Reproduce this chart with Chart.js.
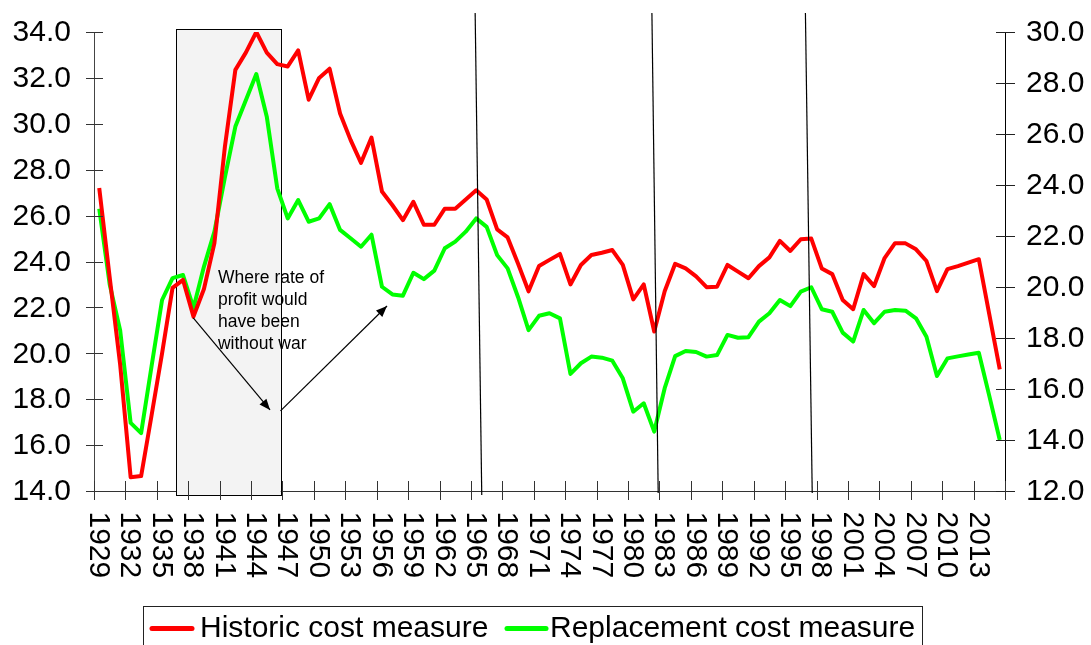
<!DOCTYPE html>
<html>
<head>
<meta charset="utf-8">
<script src="https://cdn.jsdelivr.net/npm/chart.js@4.4.1/dist/chart.umd.min.js"></script>
<style>
html,body{margin:0;padding:0;background:#fff;}
#wrap{width:1091px;height:645px;}
</style>
</head>
<body>
<div id="wrap"><canvas id="c" width="1091" height="645"></canvas></div>
<script>
// ---- data ----
const years = [];
for (let y = 1929; y <= 2015; y++) years.push(String(y));

const historicCost = [
 27.2, 23.3, 19.5, 14.6, 14.65, 17.3, 20.0, 22.85, 23.2, 21.6,
 22.8, 24.8, 29.0, 32.35, 33.1, 34.0, 33.1, 32.6, 32.5, 33.2,
 31.05, 32.0, 32.4, 30.45, 29.3, 28.3, 29.4, 27.05, 26.45, 25.8,
 26.6, 25.6, 25.6, 26.3, 26.3, 26.7, 27.1, 26.7, 25.4, 25.05,
 23.9, 22.7, 23.8, 24.07, 24.33, 23.0, 23.85, 24.28, 24.38, 24.5,
 23.85, 22.35, 23.0, 20.95, 22.7, 23.9, 23.7, 23.35, 22.88, 22.9,
 23.85, 23.56, 23.27, 23.8, 24.18, 24.9, 24.46, 24.97, 25.0, 23.7,
 23.45, 22.32, 21.92, 23.45, 22.93, 24.15, 24.8, 24.79, 24.53, 24.02,
 22.71, 23.67, 23.8, 23.95, 24.1, 21.7, 19.3
];

const replacementCost = [
 23.07, 20.1, 18.3, 14.67, 14.27, 16.9, 19.49, 20.35, 20.47, 19.18,
 20.8, 22.17, 24.3, 26.29, 27.32, 28.35, 26.68, 23.87, 22.69, 23.41,
 22.56, 22.69, 23.25, 22.24, 21.91, 21.58, 22.05, 20.01, 19.71, 19.66,
 20.56, 20.31, 20.64, 21.52, 21.78, 22.17, 22.69, 22.36, 21.25, 20.73,
 19.6, 18.31, 18.87, 18.97, 18.77, 16.59, 17.01, 17.27, 17.23, 17.11,
 16.42, 15.11, 15.44, 14.33, 16.03, 17.29, 17.49, 17.45, 17.27, 17.33,
 18.12, 18.01, 18.03, 18.64, 18.97, 19.49, 19.25, 19.82, 19.99, 19.13,
 19.03, 18.21, 17.86, 19.1, 18.58, 19.03, 19.1, 19.07, 18.77, 18.05,
 16.51, 17.2, 17.28, 17.35, 17.42, 15.73, 14.0
];

const leftTicks = [14, 16, 18, 20, 22, 24, 26, 28, 30, 32, 34];
const rightTicks = [12, 14, 16, 18, 20, 22, 24, 26, 28, 30];
const labelEvery = 3;

const seriesNames = ['Historic cost measure', 'Replacement cost measure'];
const seriesColors = ['#ff0000', '#00ff00'];

// annotations (year, left-axis value)
const warBox = {x0: 1936.33, x1: 1946.33, y0: 34.12, y1: 13.83};
const arrows = [
  {x0: 1937.98, y0: 21.54, x1: 1945.31, y1: 17.53},
  {x0: 1946.31, y0: 17.49, x1: 1956.48, y1: 22.06}
];
const markerLines = [
  {x0: 1964.9, y0: 34.83, x1: 1965.53, y1: 13.83},
  {x0: 1981.78, y0: 34.83, x1: 1982.38, y1: 13.91},
  {x0: 1996.44, y0: 34.83, x1: 1997.09, y1: 13.91}
];
const noteLines = ['Where rate of', 'profit would', 'have been', 'without war'];
const notePos = {x: 1940.34, y: 23.28};

const FONT = "'Liberation Sans', Arial, sans-serif";

function px(chart, year) { return chart.scales.x.getPixelForValue(year - 1929); }
function py(chart, v) { return chart.scales.y.getPixelForValue(v); }

function arrowHead(ctx, x0, y0, x1, y1) {
  const a = Math.atan2(y1 - y0, x1 - x0);
  const L = 11, W = 4.5;
  ctx.beginPath();
  ctx.moveTo(x1, y1);
  ctx.lineTo(x1 - L * Math.cos(a) + W * Math.sin(a), y1 - L * Math.sin(a) - W * Math.cos(a));
  ctx.lineTo(x1 - L * Math.cos(a) - W * Math.sin(a), y1 - L * Math.sin(a) + W * Math.cos(a));
  ctx.closePath();
  ctx.fill();
}

const decor = {
  id: 'decor',
  beforeDatasetsDraw(chart) {
    const ctx = chart.ctx;
    const bx0 = px(chart, warBox.x0), bx1 = px(chart, warBox.x1);
    const by0 = py(chart, warBox.y0), by1 = py(chart, warBox.y1);
    ctx.save();
    ctx.fillStyle = '#f3f3f3';
    ctx.fillRect(bx0, by0, bx1 - bx0, by1 - by0);
    ctx.strokeStyle = '#000';
    ctx.lineWidth = 1;
    ctx.strokeRect(Math.round(bx0) + 0.5, Math.round(by0) + 0.5, Math.round(bx1 - bx0), Math.round(by1 - by0));
    ctx.restore();
  },
  afterDatasetsDraw(chart) {
    const ctx = chart.ctx;
    ctx.save();
    ctx.strokeStyle = '#000';
    ctx.fillStyle = '#000';
    ctx.lineWidth = 1.2;
    markerLines.forEach(l => {
      ctx.beginPath();
      ctx.moveTo(px(chart, l.x0), py(chart, l.y0));
      ctx.lineTo(px(chart, l.x1), py(chart, l.y1));
      ctx.stroke();
    });
    arrows.forEach(a => {
      const x0 = px(chart, a.x0), y0 = py(chart, a.y0), x1 = px(chart, a.x1), y1 = py(chart, a.y1);
      ctx.beginPath();
      ctx.moveTo(x0, y0);
      ctx.lineTo(x1, y1);
      ctx.stroke();
      arrowHead(ctx, x0, y0, x1, y1);
    });
    ctx.font = '17.5px ' + FONT;
    ctx.textAlign = 'left';
    ctx.textBaseline = 'middle';
    const tx = px(chart, notePos.x), ty = py(chart, notePos.y);
    noteLines.forEach((t, i) => ctx.fillText(t, tx, ty + i * 22));
    ctx.restore();
  },
  afterDraw(chart) {
    const ctx = chart.ctx;
    const xs = chart.scales.x, ys = chart.scales.y, ys1 = chart.scales.y1;
    const area = chart.chartArea;
    ctx.save();
    ctx.lineWidth = 1;
    ctx.font = '30px ' + FONT;
    ctx.fillStyle = '#000';
    ctx.textBaseline = 'middle';
    // left axis ticks + labels
    ctx.strokeStyle = '#333';
    ctx.textAlign = 'right';
    leftTicks.forEach(v => {
      const yp = ys.getPixelForValue(v);
      const y = Math.round(yp) + 0.5;
      ctx.beginPath(); ctx.moveTo(area.left - 8, y); ctx.lineTo(area.left + 9, y); ctx.stroke();
      ctx.fillText(v.toFixed(1), area.left - 23, yp + 1);
    });
    // right axis ticks + labels
    ctx.strokeStyle = '#222';
    ctx.textAlign = 'left';
    rightTicks.forEach(v => {
      const yp = ys1.getPixelForValue(v);
      const y = Math.round(yp) + 0.5;
      ctx.beginPath(); ctx.moveTo(area.right - 9, y); ctx.lineTo(area.right + 10, y); ctx.stroke();
      ctx.fillText(v.toFixed(1), area.right + 21, yp + 1);
    });
    // x ticks at category boundaries
    ctx.strokeStyle = '#333';
    for (let k = 0; k * labelEvery - 0.5 <= years.length - 0.5; k++) {
      const x = Math.round(xs.getPixelForValue(k * labelEvery - 0.5)) + 0.5;
      ctx.beginPath(); ctx.moveTo(x, area.bottom - 10); ctx.lineTo(x, area.bottom + 9); ctx.stroke();
    }
    const xEnd = Math.round(xs.getPixelForValue(years.length - 0.5)) + 0.5;
    ctx.beginPath(); ctx.moveTo(xEnd, area.bottom - 10); ctx.lineTo(xEnd, area.bottom + 9); ctx.stroke();
    // x labels rotated clockwise
    ctx.textAlign = 'left';
    ctx.textBaseline = 'middle';
    years.forEach((lab, i) => {
      if (i % labelEvery !== 0) return;
      const x = xs.getPixelForValue(i) - 1;
      ctx.save();
      ctx.translate(x, area.bottom + 20.5);
      ctx.rotate(Math.PI / 2);
      ctx.fillText(lab, 0, 0);
      ctx.restore();
    });
    // legend
    ctx.strokeStyle = '#222';
    ctx.lineWidth = 1;
    ctx.strokeRect(143.5, 606.5, 779, 60);
    const items = [
      {x0: 152, x1: 192, tx: 200},
      {x0: 507, x1: 546, tx: 550}
    ];
    ctx.textBaseline = 'alphabetic';
    items.forEach((it, i) => {
      ctx.strokeStyle = seriesColors[i];
      ctx.lineWidth = 5;
      ctx.lineCap = 'round';
      ctx.beginPath(); ctx.moveTo(it.x0, 628.5); ctx.lineTo(it.x1, 628.5); ctx.stroke();
      ctx.fillStyle = '#000';
      ctx.fillText(seriesNames[i], it.tx, 637);
    });
    ctx.restore();
  }
};

new Chart(document.getElementById('c'), {
  type: 'line',
  data: {
    labels: years,
    datasets: [
      {label: seriesNames[0], data: historicCost, yAxisID: 'y', borderColor: seriesColors[0], backgroundColor: seriesColors[0], borderWidth: 4, pointRadius: 0, tension: 0, borderJoinStyle: 'round', fill: false},
      {label: seriesNames[1], data: replacementCost, yAxisID: 'y1', borderColor: seriesColors[1], backgroundColor: seriesColors[1], borderWidth: 4, pointRadius: 0, tension: 0, borderJoinStyle: 'round', fill: false}
    ]
  },
  options: {
    responsive: false,
    devicePixelRatio: 1,
    animation: false,
    layout: {autoPadding: false, padding: {top: 32, left: 0, right: 0, bottom: 0}},
    plugins: {legend: {display: false}, tooltip: {enabled: false}},
    scales: {
      x: {
        type: 'category',
        offset: true,
        grid: {display: false, drawTicks: false, offset: true},
        border: {display: true, color: '#333', width: 1},
        ticks: {display: false},
        afterFit: s => { s.height = 154; }
      },
      y: {
        position: 'left',
        min: 14, max: 34,
        grid: {drawOnChartArea: false, drawTicks: false},
        border: {display: true, color: '#444', width: 1},
        ticks: {display: false, stepSize: 2},
        afterFit: s => { s.width = 94; }
      },
      y1: {
        position: 'right',
        min: 12, max: 30,
        grid: {drawOnChartArea: false, drawTicks: false},
        border: {display: true, color: '#000', width: 1},
        ticks: {display: false, stepSize: 2},
        afterFit: s => { s.width = 86; }
      }
    }
  },
  plugins: [decor]
});
</script>
</body>
</html>
